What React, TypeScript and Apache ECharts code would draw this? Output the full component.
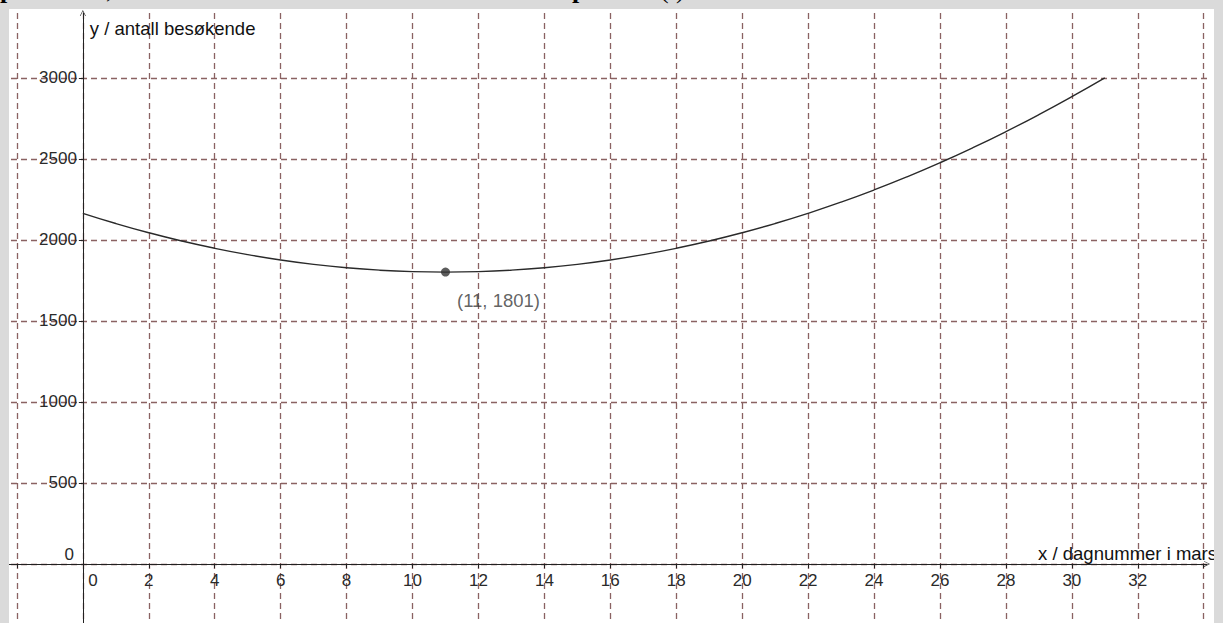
import React, { useEffect, useRef } from "react";
import * as echarts from "echarts";

// Day number in March (x) and number of visitors (y)
const days = [0, 1, 2, 3, 4, 5, 6, 7, 8, 9, 10, 11, 12, 13, 14, 15, 16, 17, 18, 19, 20, 21, 22, 23, 24, 25, 26, 27, 28, 29, 30, 31];
const visitors = [2164, 2101, 2044, 1993, 1948, 1909, 1876, 1849, 1828, 1813, 1804, 1801, 1804, 1813, 1828, 1849, 1876, 1909, 1948, 1993, 2044, 2101, 2164, 2233, 2308, 2389, 2476, 2569, 2668, 2773, 2884, 3000];

// Marked minimum point
const minPoint = [11, 1801];
const minLabel = "(11, 1801)";

// Labelled x ticks run from 0 to 32
const xLabelMax = 32;

const xAxisName = "x / dagnummer i mars";
const yAxisName = "y / antall besøkende";

const FONT = "'Liberation Sans', Arial, sans-serif";
const GRID_COLOR = "#8a6262";
const GRAY = "#dadada";

const W = 1223;
const H = 623;
const GRID_LEFT = -49;
const GRID_RIGHT = 16;
const GRID_TOP = 13;
const GRID_BOTTOM = -22;
const X_MIN = -4;
const X_MAX = 34.1;
const Y_MIN = -500;
const Y_MAX = 3400;

export default function App() {
  const ref = useRef<HTMLDivElement>(null);
  useEffect(() => {
    if (!ref.current) return;
    const chart = echarts.init(ref.current, null, { renderer: "svg" });
    const arrow = "path://M0,10 L5,0 L10,10 L9,10 L5,2 L1,10 Z";
    // move the axes from the grid edges to where the other axis is zero
    const gridW = W - GRID_LEFT - GRID_RIGHT;
    const gridH = H - GRID_TOP - GRID_BOTTOM;
    const yAxisOffset = -((0 - X_MIN) / (X_MAX - X_MIN)) * gridW;
    const xAxisOffset = -((0 - Y_MIN) / (Y_MAX - Y_MIN)) * gridH;
    const serifBold = "bold 26px 'Liberation Serif', serif";
    const serif = "26px 'Liberation Serif', serif";
    chart.setOption({
      animation: false,
      backgroundColor: "#ffffff",
      grid: {
        left: GRID_LEFT,
        right: GRID_RIGHT,
        top: GRID_TOP,
        bottom: GRID_BOTTOM,
        containLabel: false,
        outerBoundsMode: "none",
      },
      xAxis: {
        type: "value",
        position: "bottom",
        offset: xAxisOffset,
        min: X_MIN,
        max: X_MAX,
        interval: 2,
        name: xAxisName,
        nameLocation: "end",
        nameGap: 10,
        nameTextStyle: {
          fontFamily: FONT,
          fontSize: 18.5,
          color: "#111",
          align: "right",
          verticalAlign: "bottom",
          padding: [0, 0, 1, 0],
        },
        axisLine: {
          onZero: false,
          symbol: ["none", arrow],
          symbolSize: [10, 6],
          lineStyle: { color: "#222", width: 1 },
        },
        axisTick: { show: true, length: 4, lineStyle: { color: "#222" } },
        axisLabel: {
          showMaxLabel: false,
          margin: 8,
          fontFamily: FONT,
          fontSize: 17,
          color: "#2a2a2a",
          formatter: (v: number) => (v < 0 || v > xLabelMax ? "" : v === 0 ? "{z|0}" : String(v)),
          rich: { z: { fontFamily: FONT, fontSize: 17, color: "#2a2a2a", padding: [0, 0, 0, 20] } },
        },
        splitLine: {
          show: true,
          showMaxLine: false,
          lineStyle: { color: GRID_COLOR, type: [6, 4], width: 1.3 },
        },
      },
      yAxis: {
        type: "value",
        position: "left",
        offset: yAxisOffset,
        min: Y_MIN,
        max: Y_MAX,
        interval: 500,
        name: yAxisName,
        nameLocation: "end",
        nameGap: -15,
        nameTextStyle: {
          fontFamily: FONT,
          fontSize: 18.5,
          color: "#111",
          align: "left",
          verticalAlign: "middle",
          padding: [0, 0, 0, 7],
        },
        axisLine: {
          onZero: false,
          symbol: ["none", arrow],
          symbolSize: [9, 6],
          lineStyle: { color: "#222", width: 1 },
        },
        axisTick: { show: true, length: 4, lineStyle: { color: "#222" } },
        axisLabel: {
          showMaxLabel: false,
          margin: 6,
          fontFamily: FONT,
          fontSize: 17,
          color: "#2a2a2a",
          formatter: (v: number) => (v === 0 ? "{z|0}" : String(v)),
          rich: { z: { fontFamily: FONT, fontSize: 17, color: "#2a2a2a", padding: [0, 3, 18, 0] } },
        },
        splitLine: {
          show: true,
          showMaxLine: false,
          lineStyle: { color: GRID_COLOR, type: [6, 4], width: 1.3 },
        },
      },
      series: [
        {
          type: "line",
          data: days.map((d, i) => [d, visitors[i]]),
          smooth: true,
          showSymbol: false,
          lineStyle: { color: "#2a2a2a", width: 1.4 },
          z: 3,
        },
        {
          type: "scatter",
          data: [minPoint],
          symbolSize: 9,
          itemStyle: { color: "#333333" },
          label: {
            show: true,
            formatter: minLabel,
            position: "bottom",
            offset: [53, 9],
            fontFamily: FONT,
            fontSize: 18.5,
            color: "#3a3a3a",
          },
          z: 4,
        },
      ],
      graphic: [
        { type: "rect", z: 100, shape: { x: 0, y: 0, width: W, height: 9 }, style: { fill: GRAY } },
        { type: "rect", z: 100, shape: { x: 0, y: 0, width: 9, height: H }, style: { fill: GRAY } },
        { type: "rect", z: 100, shape: { x: 1214, y: 0, width: 9, height: H }, style: { fill: GRAY } },
        { type: "text", z: 101, x: 0, y: 2, style: { text: "p", font: serifBold, fill: "#000", verticalAlign: "bottom" } },
        { type: "text", z: 101, x: 106, y: 2, style: { text: ",", font: serif, fill: "#000", verticalAlign: "bottom" } },
        { type: "text", z: 101, x: 572, y: 2, style: { text: "p", font: serifBold, fill: "#000", verticalAlign: "bottom" } },
        { type: "text", z: 101, x: 660, y: 2, style: { text: "(t)", font: serif, fill: "#000", verticalAlign: "bottom" } },
      ],
    });
    return () => chart.dispose();
  }, []);
  return (
    <div
      ref={ref}
      style={{ position: "fixed", left: 0, top: 0, width: W, height: H }}
    />
  );
}
